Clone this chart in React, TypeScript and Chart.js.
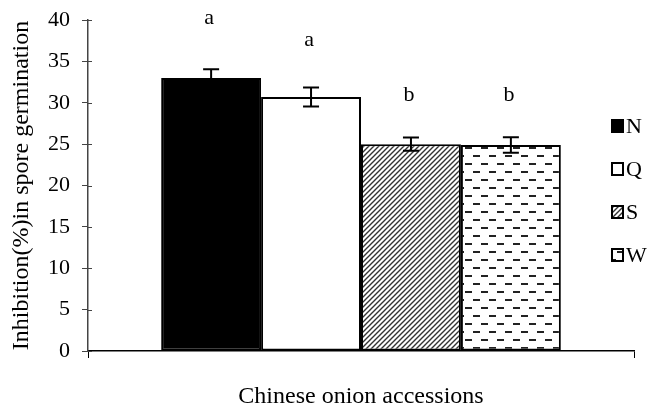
import React, { useEffect, useRef } from 'react';
import { Chart, registerables } from 'chart.js';

Chart.register(...registerables);

const categories = [''];
const seriesNames = ['N', 'Q', 'S', 'W'];
const meanValues = [33.0, 30.7, 25.0, 24.9];
const errorValues = [1.05, 1.15, 0.8, 0.93];
const letters = ['a', 'a', 'b', 'b'];
const letterValues = [40.2, 37.5, 30.9, 30.9];
const yMin = 0;
const yMax = 40;
const yStep = 5;
const yTitle = 'Inhibition(%)in spore germination';
const xTitle = 'Chinese onion accessions';

const FONT = "'Liberation Serif', 'Times New Roman', serif";
const FS = 22;
const TFS = 24;

function hatchPattern(): CanvasPattern | string {
  const c = document.createElement('canvas');
  c.width = 5;
  c.height = 5;
  const g = c.getContext('2d');
  if (!g) return '#666';
  g.fillStyle = '#fff';
  g.fillRect(0, 0, 5, 5);
  g.strokeStyle = '#333';
  g.lineWidth = 1.4;
  g.beginPath();
  g.moveTo(-1, 6);
  g.lineTo(6, -1);
  g.moveTo(-3, 3);
  g.lineTo(3, -3);
  g.moveTo(2, 8);
  g.lineTo(8, 2);
  g.stroke();
  return g.createPattern(c, 'repeat') || '#666';
}

function dashPattern(): CanvasPattern | string {
  const c = document.createElement('canvas');
  c.width = 16;
  c.height = 16;
  const g = c.getContext('2d');
  if (!g) return '#fff';
  g.fillStyle = '#fff';
  g.fillRect(0, 0, 16, 16);
  g.fillStyle = '#222';
  g.fillRect(1, 3, 7, 2);
  g.fillRect(9, 11, 7, 2);
  return g.createPattern(c, 'repeat') || '#fff';
}

const extrasPlugin = {
  id: 'extras',
  afterDraw(chart: any) {
    const ctx = chart.ctx as CanvasRenderingContext2D;
    const ys = chart.scales.y;
    const area = chart.chartArea;
    ctx.save();
    // inner parts of the crossing y ticks
    ctx.strokeStyle = '#444';
    ctx.lineWidth = 1;
    ys.ticks.forEach((_t: any, i: number) => {
      const py = Math.round(ys.getPixelForTick(i)) + 0.5;
      ctx.beginPath();
      ctx.moveTo(area.left, py);
      ctx.lineTo(area.left + 4, py);
      ctx.stroke();
    });
    // error bars and letters
    chart.data.datasets.forEach((ds: any, i: number) => {
      const meta = chart.getDatasetMeta(i);
      const bar = meta.data[0];
      if (!bar) return;
      const x = bar.x;
      const v = ds.data[0];
      const e = errorValues[i];
      const yt = ys.getPixelForValue(v + e);
      const yb = ys.getPixelForValue(v - e);
      ctx.strokeStyle = '#000';
      ctx.lineWidth = 2;
      ctx.beginPath();
      ctx.moveTo(x, yt);
      ctx.lineTo(x, yb);
      ctx.moveTo(x - 8, yt);
      ctx.lineTo(x + 8, yt);
      ctx.moveTo(x - 8, yb);
      ctx.lineTo(x + 8, yb);
      ctx.stroke();
      ctx.fillStyle = '#000';
      ctx.font = `${FS}px ${FONT}`;
      ctx.textAlign = 'center';
      ctx.textBaseline = 'middle';
      ctx.fillText(letters[i], x - 2, ys.getPixelForValue(letterValues[i]));
    });
    // legend
    const lx = 612;
    const ly0 = 126;
    const lstep = 43;
    chart.data.datasets.forEach((ds: any, i: number) => {
      const cy = ly0 + i * lstep;
      ctx.fillStyle = ds.backgroundColor;
      ctx.fillRect(lx, cy - 6, 11, 12);
      ctx.strokeStyle = '#000';
      ctx.lineWidth = 2;
      ctx.strokeRect(lx, cy - 6, 11, 12);
      ctx.fillStyle = '#000';
      ctx.font = `${FS}px ${FONT}`;
      ctx.textAlign = 'left';
      ctx.textBaseline = 'middle';
      ctx.fillText(ds.label, lx + 14, cy + 1);
    });
    ctx.restore();
  },
};

export default function App() {
  const ref = useRef<HTMLCanvasElement | null>(null);
  useEffect(() => {
    if (!ref.current) return;
    const fills = ['#000', '#fff', hatchPattern(), dashPattern()];
    const chart = new Chart(ref.current, {
      type: 'bar',
      data: {
        labels: categories,
        datasets: seriesNames.map((name, i) => ({
          label: name,
          data: [meanValues[i]],
          backgroundColor: fills[i] as any,
          borderColor: '#000',
          borderWidth: 2,
          borderSkipped: false,
          categoryPercentage: 0.732,
          barPercentage: 1,
        })),
      },
      options: {
        responsive: false,
        animation: false,
        devicePixelRatio: 1,
        layout: { padding: { top: 20, right: 20, bottom: 0, left: 0 } },
        plugins: { legend: { display: false }, tooltip: { enabled: false } },
        scales: {
          x: {
            afterFit: (s: any) => {
              s.height = 61;
            },
            ticks: { display: false },
            grid: {
              display: true,
              drawOnChartArea: false,
              drawTicks: true,
              tickLength: 7,
              color: '#000',
              offset: true,
            },
            border: { display: true, color: '#000', width: 1.5 },
            title: {
              display: true,
              text: xTitle,
              color: '#000',
              font: { family: FONT, size: TFS },
              padding: { top: 0, bottom: 1 },
            },
          },
          y: {
            min: yMin,
            max: yMax,
            afterFit: (s: any) => {
              s.width = 88;
              s.paddingTop = 12;
              s.paddingBottom = 12;
            },
            ticks: {
              stepSize: yStep,
              color: '#000',
              padding: 12,
              font: { family: FONT, size: FS },
            },
            grid: {
              display: true,
              drawOnChartArea: false,
              drawTicks: true,
              tickLength: 6,
              color: '#444',
            },
            border: { display: true, color: '#444', width: 1.5 },
            title: {
              display: true,
              text: yTitle,
              color: '#000',
              font: { family: FONT, size: TFS },
              padding: { top: 7, bottom: 0 },
            },
          },
        },
      },
      plugins: [extrasPlugin],
    });
    return () => chart.destroy();
  }, []);
  return (
    <div style={{ position: 'absolute', left: 0, top: 0, width: 654, height: 412, background: '#fff' }}>
      <canvas ref={ref} width={654} height={412} style={{ width: 654, height: 412 }} />
    </div>
  );
}
